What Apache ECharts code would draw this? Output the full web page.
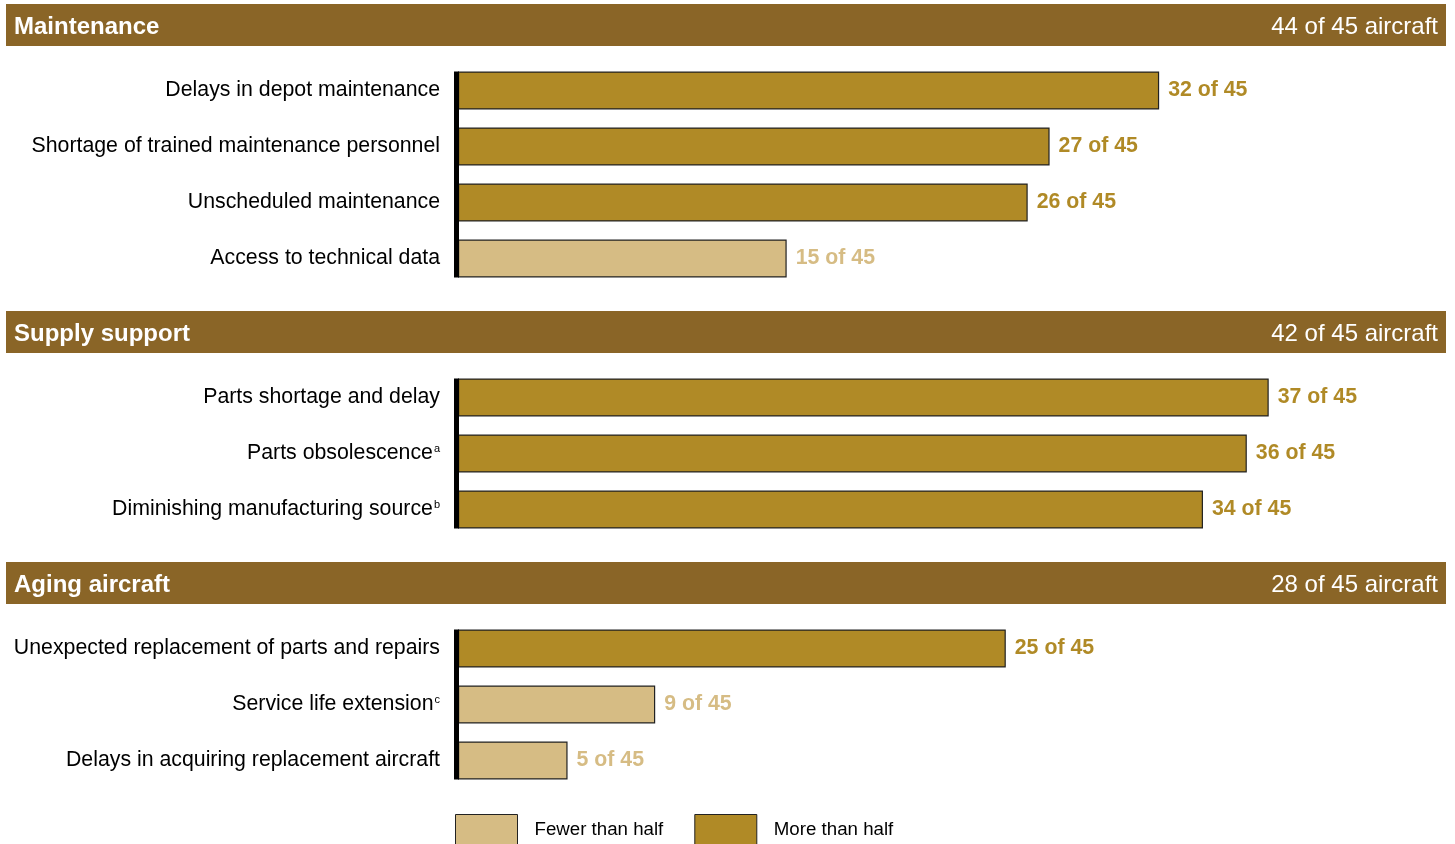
<!DOCTYPE html>
<html>
<head>
<meta charset="utf-8">
<script src="https://cdn.jsdelivr.net/npm/echarts@6/dist/echarts.min.js"></script>
<style>
html,body{margin:0;padding:0;background:#fff;}
#chart{width:1455px;height:844px;}
</style>
</head>
<body>
<div id="chart"></div>
<script>
// ---- data ----
const sectionNames = ['Maintenance', 'Supply support', 'Aging aircraft'];
const sectionTotals = ['44 of 45 aircraft', '42 of 45 aircraft', '28 of 45 aircraft'];
const maintenanceCats = ['Delays in depot maintenance', 'Shortage of trained maintenance personnel', 'Unscheduled maintenance', 'Access to technical data'];
const maintenanceNotes = ['', '', '', ''];
const maintenanceVals = [32, 27, 26, 15];
const supplyCats = ['Parts shortage and delay', 'Parts obsolescence', 'Diminishing manufacturing source'];
const supplyNotes = ['', 'a', 'b'];
const supplyVals = [37, 36, 34];
const agingCats = ['Unexpected replacement of parts and repairs', 'Service life extension', 'Delays in acquiring replacement aircraft'];
const agingNotes = ['', 'c', ''];
const agingVals = [25, 9, 5];
const totalAircraft = 45;
const legendNames = ['Fewer than half', 'More than half'];

// ---- style ----
const DARK = '#B08A26';
const LIGHT = '#D6BC84';
const BAND = '#8A6527';
const FONT = '"Liberation Sans", Arial, sans-serif';
const gridLeft = 458, gridWidth = 986, bandH = 56, barW = 38;
const gridTops = [62, 369, 620];

const sections = [
  {cats: maintenanceCats, notes: maintenanceNotes, vals: maintenanceVals},
  {cats: supplyCats, notes: supplyNotes, vals: supplyVals},
  {cats: agingCats, notes: agingNotes, vals: agingVals}
];

const grids = [], xAxes = [], yAxes = [], series = [], graphics = [];
sections.forEach((s, i) => {
  grids.push({left: gridLeft, width: gridWidth, top: gridTops[i] + 0.5, height: s.cats.length * bandH});
  xAxes.push({type: 'value', gridIndex: i, min: 0, max: totalAircraft, show: false});
  yAxes.push({
    type: 'category', gridIndex: i, inverse: true,
    data: s.cats.map((c, k) => s.notes[k] ? c + '{sup|' + s.notes[k] + '}' : c),
    axisLine: {show: false}, axisTick: {show: false}, splitLine: {show: false},
    axisLabel: {
      margin: 18, fontSize: 21.3, color: '#000', fontFamily: FONT,
      rich: {sup: {fontSize: 11, color: '#000', fontFamily: FONT, verticalAlign: 'top', padding: [0, 0, 8, 1]}}
    }
  });
  const half = totalAircraft / 2;
  const mk = (name, color, pick) => ({
    type: 'bar', name: name, xAxisIndex: i, yAxisIndex: i,
    barWidth: barW, barGap: '-100%',
    data: s.vals.map(v => pick(v) ? v : '-'),
    itemStyle: {color: color, borderColor: '#222', borderWidth: 1.2},
    label: {
      show: true, position: 'right', distance: 9, color: color,
      fontSize: 21.3, fontWeight: 'bold', fontFamily: FONT,
      formatter: p => p.value + ' of ' + totalAircraft
    },
    animation: false
  });
  series.push(mk(legendNames[0], LIGHT, v => v < half));
  series.push(mk(legendNames[1], DARK, v => v >= half));
  // vertical axis line spanning the bar extents
  series.push({
    type: 'custom', xAxisIndex: i, yAxisIndex: i, z: 10, silent: true,
    data: [[0, 0]],
    renderItem: (params, api) => {
      const n = s.cats.length;
      const p0 = api.coord([0, 0]);
      const p1 = api.coord([0, n - 1]);
      return {
        type: 'rect',
        shape: {x: p0[0] - 4, y: p0[1] - barW / 2, width: 5, height: p1[1] - p0[1] + barW},
        style: {fill: '#000'}
      };
    },
    animation: false
  });
  // header band
  const bandTop = gridTops[i] - 58;
  graphics.push({type: 'rect', left: 6, top: bandTop, shape: {width: 1440, height: 42}, style: {fill: BAND}, z: 0});
  graphics.push({type: 'text', left: 14, top: bandTop + 11, style: {text: sectionNames[i], fill: '#fff', font: 'bold 24px ' + FONT}, z: 1});
  graphics.push({type: 'text', right: 17, top: bandTop + 11, style: {text: sectionTotals[i], fill: '#fff', font: '24px ' + FONT, textAlign: 'right'}, z: 1});
});

const chart = echarts.init(document.getElementById('chart'));
chart.setOption({
  animation: false,
  grid: grids, xAxis: xAxes, yAxis: yAxes, series: series,
  graphic: graphics,
  legend: {
    data: legendNames, left: 450, top: 809, icon: 'rect',
    itemWidth: 62, itemHeight: 30, itemGap: 31,
    itemStyle: {borderColor: '#222', borderWidth: 1},
    textStyle: {fontSize: 18.7, color: '#000', fontFamily: FONT, padding: [0, 0, 0, 12]},
    selectedMode: false
  }
});
</script>
</body>
</html>
